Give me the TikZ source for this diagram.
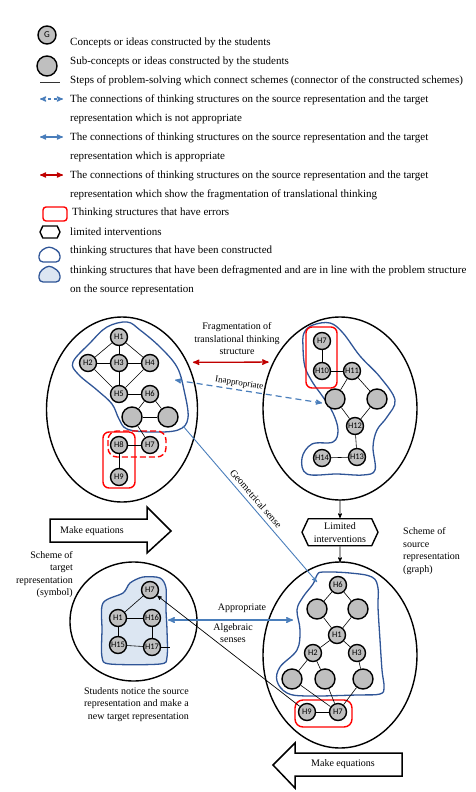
\documentclass[tikz,border=0pt]{standalone}
\usepackage{fontspec}
\setmainfont{Liberation Serif}
\newfontfamily\labelfont{Carlito}
\usepackage{tikz}
\usetikzlibrary{arrows,calc,positioning,shapes.geometric,shapes.symbols}

\definecolor{blobblue}{HTML}{2F5597}
\definecolor{linkblue}{HTML}{4A7EBB}
\definecolor{fragred}{HTML}{C00000}
\definecolor{errred}{HTML}{FF0000}
\definecolor{defrag}{HTML}{DCE6F2}
\definecolor{conceptgray}{HTML}{BFBFBF}

\tikzset{
  concept/.style={circle,draw,line width=1.4pt,fill=conceptgray,minimum size=17pt,inner sep=0pt,
    font=\labelfont\fontsize{8.5}{9}\selectfont},
  subconcept/.style={concept,minimum size=20pt},
  scheme/.style={ellipse,draw,line width=1.4pt,inner sep=0pt,outer sep=0pt},
  link/.style={draw,line width=0.6pt},
  blob/.style={draw=blobblue,line width=1.3pt},
  errbox/.style={draw=errred,line width=1.4pt,rounded corners=6pt},
  interv/.style={signal,signal to=west and east,signal pointer angle=130,draw,line width=1.4pt,
    inner sep=1pt,align=center,font=\fontsize{10}{13}\selectfont},
  legtext/.style={anchor=west,inner sep=0pt,align=left,font=\fontsize{11}{19}\selectfont},
  lbl/.style={inner sep=0pt,text=black,font=\fontsize{10}{12.5}\selectfont},
  bigarrow/.style={draw,line width=1.5pt,fill=white,line join=miter}
}

\begin{document}
\begin{tikzpicture}[x=1pt,y=-1pt,>=stealth',line join=round]
\useasboundingbox (0,0) rectangle (475,792);

% legend
\node[concept,minimum size=18pt,font=\labelfont\fontsize{9}{9}\selectfont] (legG) at (47,35) {G};
\node[subconcept] (legSub) at (47,66) {};
\coordinate (legS1) at (40,82); \coordinate (legS2) at (60,82);
\coordinate (legD1) at (40,99); \coordinate (legD2) at (63,99);
\coordinate (legA1) at (40,137); \coordinate (legA2) at (63,137);
\coordinate (legF1) at (40,175); \coordinate (legF2) at (63,175);
\draw[line width=0.8pt,black!80] (legS1) -- (legS2);
\draw[<->,linkblue,dashed,line width=1.2pt] (legD1) -- (legD2);
\draw[<->,linkblue,line width=1.2pt] (legA1) -- (legA2);
\draw[<->,fragred,line width=1.2pt] (legF1) -- (legF2);
\draw[errbox,rounded corners=3pt] (43,207) rectangle (67,221);
\node[interv,minimum width=20pt,minimum height=12pt,inner sep=0pt] (legInt) at (50,232) {};
\draw[blob,rounded corners=4pt] (39,262) -- (39,252) -- (49,246) -- (60,252) -- (60,262) -- cycle;
\draw[blob,fill=defrag,rounded corners=4pt] (39,282) -- (39,272) -- (49,265) -- (60,272) -- (60,282) -- cycle;

\node[legtext] (legGt) at (70,43) {Concepts or ideas constructed by the students};
\node[legtext] (legSubt) at (70,62) {Sub-concepts or ideas constructed by the students};
\node[legtext] (legSt) at (70,81) {Steps of problem-solving which connect schemes (connector of the constructed schemes)};
\node[legtext] (legDt) at (70,109.5) {The connections of thinking structures on the source representation and the target\\representation which is not appropriate};
\node[legtext] (legAt) at (70,147) {The connections of thinking structures on the source representation and the target\\representation which is appropriate};
\node[legtext] (legFt) at (70,185) {The connections of thinking structures on the source representation and the target\\representation which show the fragmentation of translational thinking};
\node[legtext] (legEt) at (72,213) {Thinking structures that have errors};
\node[legtext] (legIt) at (70,232) {limited interventions};
\node[legtext] (legBt) at (70,251) {thinking structures that have been constructed};
\node[legtext] (legLt) at (70,280) {thinking structures that have been defragmented and are in line with the problem structure\\on the source representation};

% schemes
\node[scheme,minimum width=151pt,minimum height=185pt] (ellTL) at (122,409.5) {};
\node[scheme,minimum width=154pt,minimum height=183pt] (ellTR) at (340,408.5) {};
\node[scheme,minimum width=154pt,minimum height=186pt] (ellBR) at (340,655) {};
\node[scheme,minimum width=127pt,minimum height=119pt] (ellBL) at (133.5,621.5) {};

% thinking structures
\draw[blob] plot[smooth cycle,tension=0.6] coordinates {(73,362) (90,343) (107,327) (127,322) (140,330)
  (160,347) (177,367) (184,390) (188,418) (178,430) (150,432) (127,429) (119,419) (112,404) (97,390) (78,374)};
\draw[blob] plot[smooth cycle,tension=0.6] coordinates {(304,333) (313,325) (330,323) (343,333) (360,356)
  (380,377) (395,400) (387,417) (377,430) (373,447) (375,470) (363,475) (337,474) (307,474) (302,458)
  (312,444) (333,442) (338,430) (333,413) (323,397) (313,383) (305,367) (303,347)};
\draw[blob] plot[smooth cycle,tension=0.6] coordinates {(317,575) (323,572) (350,573) (372,577) (378,588)
  (378,607) (380,640) (382,670) (384,687) (380,694) (357,695) (307,696) (287,693) (277,681) (280,667)
  (297,650) (300,630) (297,610) (303,597) (313,584)};
\draw[blob,fill=defrag] plot[smooth cycle,tension=0.5] coordinates {(103,603) (123,593) (130,583) (143,577)
  (160,578) (166,588) (166,610) (167,630) (167,657) (160,664) (110,664) (102,657) (102,630)};

% errors
\draw[errbox] (103,432) rectangle (135,488);
\draw[errbox,dashed,dash pattern=on 6pt off 3pt,rounded corners=9pt] (108,431) rectangle (166,457);
\draw[errbox] (306,327) rectangle (337,388);
\draw[errbox,rounded corners=8pt] (295,700) rectangle (352,727);

% concepts: source representation (first attempt)
\node[concept] (tlH1) at (119,337) {H1};
\node[concept] (tlH2) at (88,363) {H2};
\node[concept] (tlH3) at (119,363) {H3};
\node[concept] (tlH4) at (150,363) {H4};
\node[concept] (tlH5) at (119,394) {H5};
\node[concept] (tlH6) at (150,394) {H6};
\node[subconcept] (tlU1) at (132,417) {};
\node[subconcept] (tlU2) at (168,417) {};
\node[concept] (tlH8) at (119,445) {H8};
\node[concept] (tlH7) at (150,445) {H7};
\node[concept] (tlH9) at (119,477) {H9};
\path[link]
  (tlH1) edge (tlH3) (tlH3) edge (tlH5)
  (tlH2) edge (tlH3) (tlH3) edge (tlH4)
  (tlH1) edge (tlH2) (tlH1) edge (tlH4)
  (tlH2) edge (tlH5) (tlH4) edge (tlH5)
  (tlH5) edge (tlH6)
  (tlH6) edge (tlU1) (tlH6) edge (tlU2) (tlU1) edge (tlU2)
  (tlU1) edge (tlH7) (tlH8) edge (tlH7) (tlH8) edge (tlH9);

% concepts: fragmented structure
\node[concept] (trH7) at (322,341) {H7};
\node[concept] (trH10) at (322,371) {H10};
\node[concept] (trH11) at (352,371) {H11};
\node[subconcept] (trU3) at (335,399) {};
\node[subconcept] (trU4) at (377,399) {};
\node[concept] (trH12) at (355,426) {H12};
\node[concept] (trH13) at (357,457) {H13};
\node[concept] (trH14) at (322,458) {H14};
\path[link]
  (trH7) edge (trH10) (trH10) edge (trH11)
  (trH11) edge (trU3) (trH11) edge (trU4)
  (trU3) edge (trH12) (trU4) edge (trH12)
  (trH12) edge (trH13) (trH13) edge (trH14);

% concepts: source representation (graph)
\node[concept] (brH6) at (338,585) {H6};
\node[subconcept] (brU5) at (317,609) {};
\node[subconcept] (brU6) at (358,609) {};
\node[concept] (brH1) at (337,635) {H1};
\node[concept] (brH2) at (313,653) {H2};
\node[concept] (brH3) at (357,653) {H3};
\node[subconcept] (brU7) at (292,679) {};
\node[subconcept] (brU8) at (325,679) {};
\node[subconcept] (brU9) at (363,679) {};
\node[concept] (brH9) at (307,712) {H9};
\node[concept] (brH7) at (338,712) {H7};
\path[link]
  (brH6) edge (brU5) (brH6) edge (brU6)
  (brU5) edge (brH1) (brU6) edge (brH1)
  (brH1) edge (brH2) (brH1) edge (brH3)
  (brH2) edge (brU7) (brH2) edge (brU8) (brH3) edge (brU9)
  (brU7) edge (brH7) (brU8) edge (brH7) (brU9) edge (brH7)
  (brH9) edge (brH7);

% concepts: target representation (symbol)
\node[concept] (blH7) at (150,590) {H7};
\node[concept] (blH1) at (118,618) {H1};
\node[concept] (blH16) at (152,618) {H16};
\node[concept] (blH15) at (118,645) {H15};
\node[concept] (blH17) at (152,647) {H17};
\coordinate (blStub) at (170,647);
\path[link]
  (blH1) edge (blH7) (blH1) edge (blH16) (blH1) edge (blH15)
  (blH16) edge (blH17) (blH15) edge (blH17) (blH17) edge (blStub);

% connections
\draw[<->,fragred,line width=1.3pt,shorten <=6pt,shorten >=5pt] (ellTL.36) -- (ellTR.145);
\node[lbl,align=center] (fragTxt) at (237,339) {Fragmentation of\\translational thinking\\structure};

\coordinate (tlIn) at (175,380);
\coordinate (trIn) at (322,403);
\draw[<->,linkblue,dashed,dash pattern=on 6pt off 4pt,line width=1.2pt] (tlIn) --
  node[pos=0.43,sloped,above=2pt,lbl,font=\fontsize{9}{11}\selectfont] (inapTxt) {Inappropriate} (trIn);

\coordinate (tlOut) at (183,426);
\coordinate (brIn) at (317,582);
\draw[->,linkblue,line width=0.9pt] (tlOut) --
  node[midway,sloped,above=4pt,lbl] (geoTxt) {Geometrical sense} (brIn);

\node[interv,below=18pt of ellTR,minimum width=76pt,minimum height=27pt] (limit) {Limited\\interventions};
\draw[->,line width=0.7pt] (ellTR) -- (limit);
\draw[->,line width=0.7pt] (limit) -- (ellBR);
\node[lbl,align=left,anchor=west] (srcTxt) at (403,551) {Scheme of\\source\\representation\\(graph)};

\coordinate (blIn) at (168,620);
\coordinate (brIn2) at (293,620);
\draw[<->,linkblue,line width=1.4pt] (blIn) -- (brIn2);
\node[lbl] (apprTxt) at (242,608) {Appropriate};
\node[lbl,align=center] (algTxt) at (233,633) {Algebraic\\senses};

\draw[->,line width=0.7pt] (brH9) -- (blH7);

\node[lbl,align=right,anchor=east] (tgtTxt) at (73,574.5) {Scheme of\\target\\representation\\(symbol)};
\node[lbl,align=right,anchor=east] (noticeTxt) at (189,704.5) {Students notice the source\\representation and make a\\new target representation};

% make equations
\draw[bigarrow] (50,519) -- (147,519) -- (147,507) -- (171,531) -- (147,553) -- (147,542) -- (50,542) -- cycle;
\node[lbl,anchor=west] (eqTop) at (60,531) {Make equations};
\draw[bigarrow] (402,753) -- (295,753) -- (295,743) -- (273,765) -- (295,788) -- (295,776) -- (402,776) -- cycle;
\node[lbl] (eqBot) at (343,764) {Make equations};
\end{tikzpicture}
\end{document}
